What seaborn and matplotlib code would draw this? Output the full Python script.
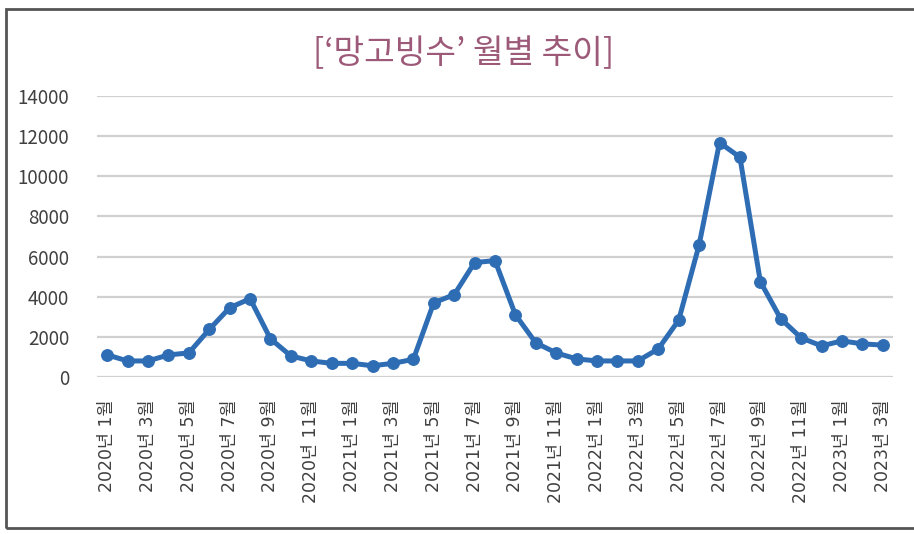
import numpy as np
import pandas as pd
import matplotlib
matplotlib.use("Agg")
import matplotlib.pyplot as plt
from matplotlib.patches import Rectangle
import seaborn as sns

# monthly values, 2020-01 .. 2023-03
years = [2020] * 12 + [2021] * 12 + [2022] * 12 + [2023] * 3
months = list(range(1, 13)) * 3 + [1, 2, 3]
values = [1100, 800, 800, 1100, 1200, 2370, 3450, 3900, 1900, 1050, 800, 680,
          680, 560, 680, 880, 3700, 4100, 5700, 5800, 3100, 1700, 1200, 900,
          800, 800, 800, 1400, 2830, 6580, 11680, 10950, 4750, 2900, 1950, 1550,
          1800, 1650, 1590]

labels = [f"{y}년 {m}월" for y, m in zip(years, months)]
df = pd.DataFrame({"idx": np.arange(len(values)), "label": labels, "value": values})

line_color = "#2E6DB4"
title_color = "#9C5A78"
text_color = "#404040"
grid_color = "#D0D0D0"

sns.set_theme(style="white")
plt.rcParams["font.family"] = ["Noto Sans CJK KR", "DejaVu Sans"]

fig = plt.figure(figsize=(9.14, 5.34), dpi=100)
ax = fig.add_axes([97 / 914, 1 - 377 / 534, (893 - 97) / 914, (377 - 96) / 534])

sns.lineplot(data=df, x="idx", y="value", ax=ax, color=line_color,
             linewidth=3.6, marker="o", markersize=8.5,
             markeredgecolor=line_color, markerfacecolor=line_color)

ax.set_xlim(-0.5, len(values) - 0.5)
ax.set_ylim(0, 14000)
ax.set_yticks(range(0, 14001, 2000))
ax.yaxis.grid(True, color=grid_color, linewidth=1.6)
ax.set_axisbelow(True)
for s in ax.spines.values():
    s.set_visible(False)

ticks = df["idx"][::2]
ax.set_xticks(ticks)
ax.set_xticklabels(df["label"][::2], rotation=90, va="top", ha="center",
                   family=["DejaVu Sans", "Noto Sans CJK KR"])
ax.tick_params(axis="x", length=0, pad=16, labelsize=12.5, labelcolor=text_color)
ax.tick_params(axis="y", length=0, pad=20, labelsize=13.5, labelcolor=text_color)
ax.set_xlabel("")
ax.set_ylabel("")

fig.text(0.507, 0.90, "[‘망고빙수’ 월별 추이]", ha="center", va="center",
         fontsize=24, color=title_color)

# frame around the chart (left, top, bottom visible)
fig.patches.append(Rectangle((6 / 914, 1 - 528 / 534), 1.05, (528 - 9) / 534,
                             transform=fig.transFigure, fill=False,
                             edgecolor="#555555", linewidth=2))

fig.savefig("out.png", dpi=100, facecolor="white")
